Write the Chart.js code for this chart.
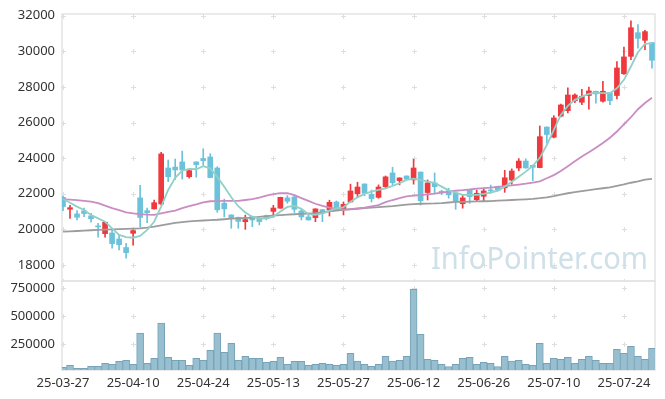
<!DOCTYPE html>
<html>
<head>
<meta charset="utf-8">
<script src="https://cdn.jsdelivr.net/npm/chart.js@4.4.1/dist/chart.umd.min.js"></script>
<style>
  html, body { margin: 0; padding: 0; background: #fff; }
  #wrap { position: relative; width: 665px; height: 399px; }
  canvas { position: absolute; left: 0; }
  #price { top: 0; }
  #volume { top: 272px; }
</style>
</head>
<body>
<div id="wrap">
  <canvas id="price" width="665" height="282"></canvas>
  <canvas id="volume" width="665" height="127"></canvas>
</div>
<script>
const dates = [
  '25-03-27','25-03-28','25-03-31',
  '25-04-01','25-04-02','25-04-03','25-04-04','25-04-07','25-04-08','25-04-09','25-04-10','25-04-11',
  '25-04-14','25-04-15','25-04-16','25-04-17','25-04-18','25-04-21','25-04-22','25-04-23','25-04-24',
  '25-04-25','25-04-28','25-04-29','25-04-30',
  '25-05-02','25-05-07','25-05-08','25-05-09','25-05-12','25-05-13','25-05-14','25-05-15','25-05-16',
  '25-05-19','25-05-20','25-05-21','25-05-22','25-05-23','25-05-26','25-05-27','25-05-28','25-05-29','25-05-30',
  '25-06-02','25-06-04','25-06-05','25-06-09','25-06-10','25-06-11','25-06-12','25-06-13','25-06-16',
  '25-06-17','25-06-18','25-06-19','25-06-20','25-06-23','25-06-24','25-06-25','25-06-26','25-06-27','25-06-30',
  '25-07-01','25-07-02','25-07-03','25-07-04','25-07-07','25-07-08','25-07-09','25-07-10','25-07-11',
  '25-07-14','25-07-15','25-07-16','25-07-17','25-07-18','25-07-21','25-07-22','25-07-23','25-07-24',
  '25-07-25','25-07-28','25-07-29','25-07-30'
];
const xTickIdx = [0, 10, 20, 30, 40, 50, 60, 70, 80];
const priceTicks = [18000, 20000, 22000, 24000, 26000, 28000, 30000, 32000];
const volumeTicks = [250000, 500000, 750000];

const opens = [
  21800, 21130, 20870, 21040, 20760, 20190, 19760, 19800, 19460, 18980,
  19780, 21770, 21050, 21150, 21430, 23450, 23500, 23790, 22960, 23790,
  23980, 24070, 23450, 21470, 20810, 20680, 20430, 20730, 20620, 20770,
  21010, 21190, 21770, 21820, 21030, 20700, 20660, 21110, 21090, 21540,
  21150, 21540, 22000, 22550, 21970, 21800, 22400, 23170, 22740, 23000,
  22780, 23220, 22070, 22610, 22140, 22170, 22030, 21440, 22200, 21670,
  21860, 22210, 22420, 22330, 22770, 23450, 23840, 23600, 23470, 25750,
  25180, 26360, 26670, 27230, 27140, 27520, 27760, 27200, 27670, 27520,
  28740, 29720, 31050, 30620, 30490
];
const highs = [
  21850, 21350, 21050, 21190, 20900, 20340, 20430, 19970, 19700, 19220,
  19970, 22480, 21200, 21650, 24330, 23900, 23950, 24400, 23380, 23800,
  24530, 24250, 23520, 21700, 20820, 20690, 20800, 20740, 20630, 20800,
  21350, 21810, 21900, 21940, 21150, 20920, 21160, 21120, 21640, 21600,
  21540, 22540, 22650, 22560, 22210, 22500, 23000, 23490, 22900, 23010,
  23940, 23230, 22780, 23170, 22200, 22310, 22040, 21950, 22210, 22210,
  22250, 22490, 22430, 23320, 23400, 23980, 23960, 23610, 25810, 25760,
  26390, 27040, 27950, 27620, 27870, 28000, 27770, 28320, 27680, 29420,
  30240, 31720, 31500, 31180, 30500
];
const lows = [
  21050, 20620, 20530, 20720, 20400, 19560, 19560, 18940, 18850, 18380,
  19110, 20120, 20380, 21130, 21380, 22680, 22800, 22830, 22880, 22930,
  23600, 22900, 20960, 20700, 20060, 20060, 20000, 20150, 20250, 20530,
  20680, 21180, 21470, 20950, 20530, 20520, 20430, 20430, 20750, 21050,
  20810, 21530, 21820, 21890, 21540, 21750, 22310, 22500, 22500, 22800,
  22540, 21370, 21650, 22000, 21950, 21750, 21130, 21190, 21460, 21560,
  21560, 22030, 22150, 22080, 22530, 23300, 23440, 22740, 23460, 24850,
  25140, 26320, 26540, 27120, 27010, 26750, 27090, 27140, 27010, 27330,
  28700, 29540, 30180, 30100, 29050
];
const closes = [
  21280, 21220, 20680, 20890, 20600, 20140, 20400, 19200, 19140, 18690,
  19930, 20670, 20940, 21500, 24240, 22960, 23340, 23340, 23300, 23640,
  23860, 22910, 21100, 21150, 20660, 20450, 20550, 20530, 20440, 20600,
  21200, 21800, 21580, 21130, 20700, 20530, 21150, 20900, 21520, 21130,
  21410, 22160, 22380, 22030, 21730, 22380, 22950, 22620, 22890, 22820,
  23450, 21610, 22610, 22400, 22050, 21940, 21610, 21770, 21840, 22030,
  22160, 22160, 22200, 22900, 23280, 23840, 23450, 23490, 25210, 25330,
  26260, 26990, 27550, 27550, 27480, 27780, 27610, 27760, 27230, 29070,
  29690, 31330, 30730, 31110, 29500
];
const volumes = [
  41000, 59000, 32000, 32000, 50000, 50000, 77000, 68000, 95000, 104000,
  68000, 347000, 77000, 122000, 437000, 131000, 104000, 104000, 59000, 122000,
  104000, 194000, 347000, 176000, 256000, 104000, 140000, 122000, 122000, 86000,
  95000, 131000, 68000, 95000, 95000, 59000, 68000, 77000, 68000, 59000,
  68000, 167000, 98000, 68000, 50000, 68000, 140000, 98000, 104000, 140000,
  741000, 337000, 113000, 104000, 68000, 47000, 68000, 122000, 131000, 68000,
  86000, 77000, 47000, 140000, 98000, 104000, 68000, 59000, 256000, 77000,
  122000, 113000, 131000, 77000, 113000, 140000, 104000, 77000, 77000, 203000,
  167000, 229000, 140000, 113000, 211000
];
const ma5 = [
  21710, 21500, 21280, 21090, 20810, 20620, 20430, 20060, 19690, 19560,
  19530, 19630, 19970, 20430, 21280, 22215, 22900, 23300, 23400, 23380,
  23550, 23430, 22950, 22400, 21800, 21300, 20950, 20715, 20600, 20625,
  20715, 21000, 21260, 21315, 21150, 20850, 20810, 20905, 21050, 21185,
  21240, 21560, 21800, 21990, 22120, 22215, 22310, 22440, 22590, 22775,
  22850, 22775, 22680, 22620, 22400, 22190, 22070, 21935, 21935, 21935,
  21990, 22065, 22180, 22400, 22680, 22960, 23245, 23565, 24020, 24740,
  25590, 26430, 26935, 27275, 27460, 27610, 27685, 27650, 27650, 27930,
  28400, 29150, 29950, 30420, 30450
];
const ma20 = [
  21690, 21670, 21640, 21600, 21560, 21470, 21330, 21200, 21080, 20960,
  20900, 20860, 20830, 20810, 20900, 20980, 21060, 21190, 21300, 21400,
  21520, 21580, 21590, 21600, 21600, 21600, 21650, 21700, 21790, 21900,
  21980, 22040, 22030, 21920, 21760, 21600, 21440, 21320, 21220, 21150,
  21110, 21140, 21180, 21220, 21290, 21360, 21530, 21650, 21760, 21860,
  21900, 21930, 21970, 22010, 22070, 22120, 22170, 22200, 22240, 22290,
  22320, 22350, 22390, 22430, 22470, 22520, 22570, 22630, 22700, 22870,
  23050, 23280, 23550, 23830, 24100, 24330, 24580, 24850, 25150, 25500,
  25900, 26300, 26750, 27100, 27400
];
const ma60 = [
  19870, 19890, 19910, 19930, 19950, 19970, 19985, 20000, 20015, 20030,
  20045, 20060, 20100, 20150, 20230, 20300, 20360, 20410, 20450, 20480,
  20500, 20520, 20540, 20570, 20600, 20620, 20640, 20660, 20700, 20740,
  20770, 20800, 20830, 20850, 20870, 20890, 20910, 20950, 21010, 21060,
  21100, 21130, 21160, 21190, 21220, 21250, 21280, 21310, 21350, 21390,
  21420, 21440, 21450, 21460, 21480, 21510, 21540, 21550, 21560, 21570,
  21580, 21590, 21610, 21630, 21650, 21670, 21690, 21710, 21750, 21800,
  21870, 21950, 22030, 22090, 22150, 22200, 22260, 22310, 22360, 22450,
  22530, 22620, 22700, 22790, 22840
];

const UP = '#ee3a3f';
const DOWN = '#6cc2da';
const FONT = '"Noto Sans", "Liberation Sans", sans-serif';
const candleColor = dates.map((d, i) => closes[i] >= opens[i] ? UP : DOWN);

// light frame + little "+" marks where grid lines would cross
const frameMarks = {
  id: 'frameMarks',
  beforeDatasetsDraw(chart, args, opts) {
    const { ctx, chartArea: a, scales } = chart;
    ctx.save();
    ctx.strokeStyle = '#e3e3e3';
    ctx.lineWidth = 1.5;
    ctx.strokeRect(a.left, a.top, a.right - a.left, a.bottom - a.top);
    ctx.strokeStyle = '#dedede';
    ctx.lineWidth = 1;
    const ys = scales.y.ticks.map(t => scales.y.getPixelForValue(t.value));
    if (opts.edge) ys.push(a.bottom);
    xTickIdx.forEach(i => {
      const px = Math.round(scales.x.getPixelForValue(i)) + 0.5;
      ys.forEach(py => {
        py = Math.round(py) + 0.5;
        ctx.beginPath();
        ctx.moveTo(px - 2.5, py); ctx.lineTo(px + 2.5, py);
        ctx.moveTo(px, py - 2.5); ctx.lineTo(px, py + 2.5);
        ctx.stroke();
      });
    });
    if (opts.watermark) {
      ctx.fillStyle = '#cfe0e8';
      ctx.font = '31px ' + FONT;
      ctx.textBaseline = 'alphabetic';
      ctx.fillText(opts.watermark, 431, 269, 217);
    }
    ctx.restore();
  }
};

// keep tick labels from pushing the plot area around
function noPad(s) {
  s.paddingTop = 0; s.paddingBottom = 0; s.paddingLeft = 0; s.paddingRight = 0;
}

const xBase = {
  type: 'linear',
  offset: false,
  min: -0.143,
  max: 84.43,
  grid: { display: false, drawTicks: false },
  border: { display: false }
};
const yTickFont = { family: FONT, size: 13 };

new Chart(document.getElementById('price'), {
  type: 'bar',
  data: {
    datasets: [
      { type: 'line', data: dates.map((d, i) => ({ x: i, y: ma5[i] })), borderColor: '#90d0c7', borderWidth: 1.8, pointRadius: 0, tension: 0, clip: 0, order: 0 },
      { type: 'line', data: dates.map((d, i) => ({ x: i, y: ma20[i] })), borderColor: '#c98dc4', borderWidth: 1.8, pointRadius: 0, tension: 0, clip: 0, order: 0 },
      { type: 'line', data: dates.map((d, i) => ({ x: i, y: ma60[i] })), borderColor: '#9c9c9c', borderWidth: 1.8, pointRadius: 0, tension: 0, clip: 0, order: 0 },
      { data: dates.map((d, i) => ({ x: i, y: [opens[i], closes[i]] })), backgroundColor: candleColor, barThickness: 5, minBarLength: 1, grouped: false, clip: 0, order: 1 },
      { data: dates.map((d, i) => ({ x: i, y: [lows[i], highs[i]] })), backgroundColor: candleColor, barThickness: 1, grouped: false, clip: 0, order: 2 }
    ]
  },
  options: {
    responsive: false,
    animation: false,
    layout: { padding: { top: 14, right: 10, bottom: 1, left: 0 } },
    plugins: {
      legend: { display: false },
      tooltip: { enabled: false },
      frameMarks: { watermark: 'InfoPointer.com', edge: true }
    },
    scales: {
      x: Object.assign({}, xBase, { display: false }),
      y: {
        min: 17100,
        max: 32100,
        afterBuildTicks: s => { s.ticks = priceTicks.map(v => ({ value: v })); },
        afterFit: s => { s.width = 62; noPad(s); },
        grid: { display: false, drawTicks: false },
        border: { display: false },
        ticks: { padding: 7, color: '#333', font: yTickFont, callback: v => String(v) }
      }
    }
  },
  plugins: [frameMarks]
});

new Chart(document.getElementById('volume'), {
  type: 'bar',
  data: {
    datasets: [{
      data: dates.map((d, i) => ({ x: i, y: volumes[i] })),
      backgroundColor: '#98bfcf',
      borderColor: '#76a3b8',
      borderWidth: 1,
      barThickness: 7,
      clip: 0
    }]
  },
  options: {
    responsive: false,
    animation: false,
    layout: { padding: { top: 9, right: 10, bottom: 0, left: 0 } },
    plugins: {
      legend: { display: false },
      tooltip: { enabled: false },
      frameMarks: {}
    },
    scales: {
      x: Object.assign({}, xBase, {
        afterBuildTicks: s => { s.ticks = xTickIdx.map(v => ({ value: v })); },
        afterFit: s => { s.height = 29; noPad(s); },
        ticks: {
          padding: 5,
          color: '#333',
          font: { family: FONT, size: 13 },
          maxRotation: 0,
          autoSkip: false,
          callback: v => dates[v]
        }
      }),
      y: {
        min: 17000,
        max: 815000,
        afterBuildTicks: s => { s.ticks = volumeTicks.map(v => ({ value: v })); },
        afterFit: s => { s.width = 62; noPad(s); },
        grid: { display: false, drawTicks: false },
        border: { display: false },
        ticks: { padding: 7, color: '#333', font: yTickFont, callback: v => String(v) }
      }
    }
  },
  plugins: [frameMarks]
});
</script>
</body>
</html>
